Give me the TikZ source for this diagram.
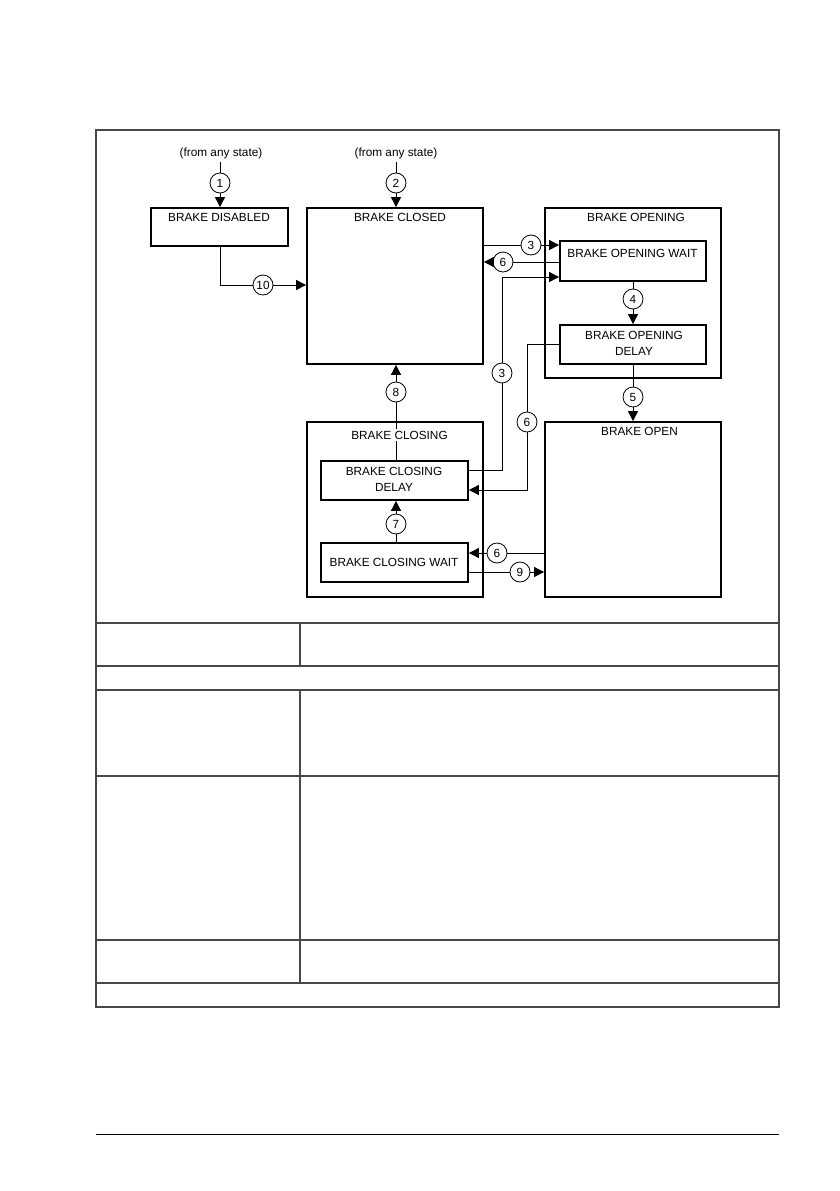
\documentclass[tikz,border=0pt]{standalone}
\usepackage{fontspec}
\setmainfont{Liberation Sans}
\usetikzlibrary{arrows.meta}
\begin{document}
\begin{tikzpicture}[x=1pt,y=-1pt,
  sbox/.style={draw=black, line width=1.8pt, inner sep=0pt},
  num/.style={circle, draw=black, line width=0.8pt, fill=white, minimum size=20pt, inner sep=0pt, font=\fontsize{11.8}{13}\selectfont},
  lbl/.style={font=\fontsize{11.8}{15.5}\selectfont, inner sep=1.5pt, align=center},
  conn/.style={line width=0.9pt},
  arr/.style={conn, -{Triangle[length=10pt,width=10pt]}},
  frame/.style={draw=black!72, line width=1.3pt}
]
\useasboundingbox (0,0) rectangle (839,1191);
\fill[white] (0,0) rectangle (839,1191);

% frame and table
\draw[frame] (96,130) rectangle (779,1007);
\foreach \yy in {623,666,690,776,940,983} \draw[frame] (96,\yy) -- (779,\yy);
\draw[frame] (300,623) -- (300,666);
\draw[frame] (300,690) -- (300,983);
\draw[line width=1pt] (96,1134) -- (779,1134);

% state boxes
\node[sbox, minimum width=137pt, minimum height=38pt] (bd) at (219.5,227) {};
\node[sbox, minimum width=176pt, minimum height=156pt] (bc) at (395,286) {};
\node[sbox, minimum width=176pt, minimum height=170pt] (bo) at (633,293) {};
\node[sbox, minimum width=146pt, minimum height=40pt] (bow) at (633,261) {};
\node[sbox, minimum width=146pt, minimum height=39pt] (bod) at (633,344.5) {};
\node[sbox, minimum width=176pt, minimum height=175pt] (bop) at (633,509.5) {};
\node[sbox, minimum width=176pt, minimum height=175pt] (bcl) at (395,509.5) {};
\node[sbox, minimum width=147pt, minimum height=39pt] (bcd) at (394.5,480.5) {};
\node[sbox, minimum width=147pt, minimum height=39pt] (bcw) at (394.5,562.5) {};

% numbered circles
\node[num] (c1) at (220,183) {1};
\node[num] (c2) at (396,183) {2};
\node[num] (c10) at (263,285) {10};
\node[num] (c3a) at (531,245) {3};
\node[num] (c6a) at (503,262) {6};
\node[num] (c4) at (633,299) {4};
\node[num] (c3b) at (502,373) {3};
\node[num] (c6b) at (527,422) {6};
\node[num] (c5) at (633,397) {5};
\node[num] (c8) at (396,392) {8};
\node[num] (c7) at (396,524) {7};
\node[num] (c6c) at (497,553) {6};
\node[num] (c9) at (520,572) {9};

\coordinate (f1) at (220,162);
\coordinate (f2) at (396,162);
\coordinate (k3) at (502,277);
\coordinate (k6) at (527,344);

% connectors
\draw[conn] (f1) -- (c1);
\draw[arr] (c1) -- (c1 |- bd.north);
\draw[conn] (f2) -- (c2);
\draw[arr] (c2) -- (c2 |- bc.north);
\draw[conn] (bd.south -| c1) |- (c10);
\draw[arr] (c10) -- (bc.west |- c10);
\draw[conn] (bc.east |- c3a) -- (c3a);
\draw[arr] (c3a) -- (bow.west |- c3a);
\draw[conn] (bow.west |- c6a) -- (c6a);
\draw[arr] (c6a) -- (bc.east |- c6a);
\draw[conn] (bow.south) -- (c4);
\draw[arr] (c4) -- (bod.north);
\draw[conn] (bod.south) -- (c5);
\draw[arr] (c5) -- (bop.north);
\draw[conn] (bcd.east |- 0,470) -| (c3b);
\draw[arr] (c3b) |- (bow.west |- k3);
\draw[conn] (bod.west |- k6) -| (c6b);
\draw[arr] (c6b) |- (bcd.east |- 0,490);
\draw[conn] (bcd.north -| c8) -- (c8);
\draw[arr] (c8) -- (bc.south -| c8);
\draw[conn] (bcw.north -| c7) -- (c7);
\draw[arr] (c7) -- (bcd.south -| c7);
\draw[conn] (bop.west |- c6c) -- (c6c);
\draw[arr] (c6c) -- (bcw.east |- c6c);
\draw[conn] (bcw.east |- c9) -- (c9);
\draw[arr] (c9) -- (bop.west |- c9);

% labels
\node[lbl] (t1) at (221,153) {(from any state)};
\node[lbl] (t2) at (396,153) {(from any state)};
\node[lbl] (tbd) at (219,217) {BRAKE DISABLED};
\node[lbl] (tbc) at (400,217) {BRAKE CLOSED};
\node[lbl] (tbo) at (636,217) {BRAKE OPENING};
\node[lbl] (tbow) at (632.5,253) {BRAKE OPENING WAIT};
\node[lbl] (tbod) at (634,343.5) {BRAKE OPENING\\DELAY};
\node[lbl] (tbop) at (639.5,431) {BRAKE OPEN};
\node[lbl, fill=white] (tbcl) at (399.5,435) {BRAKE CLOSING};
\node[lbl] (tbcd) at (394,479.5) {BRAKE CLOSING\\DELAY};
\node[lbl] (tbcw) at (394,562) {BRAKE CLOSING WAIT};
\end{tikzpicture}
\end{document}
